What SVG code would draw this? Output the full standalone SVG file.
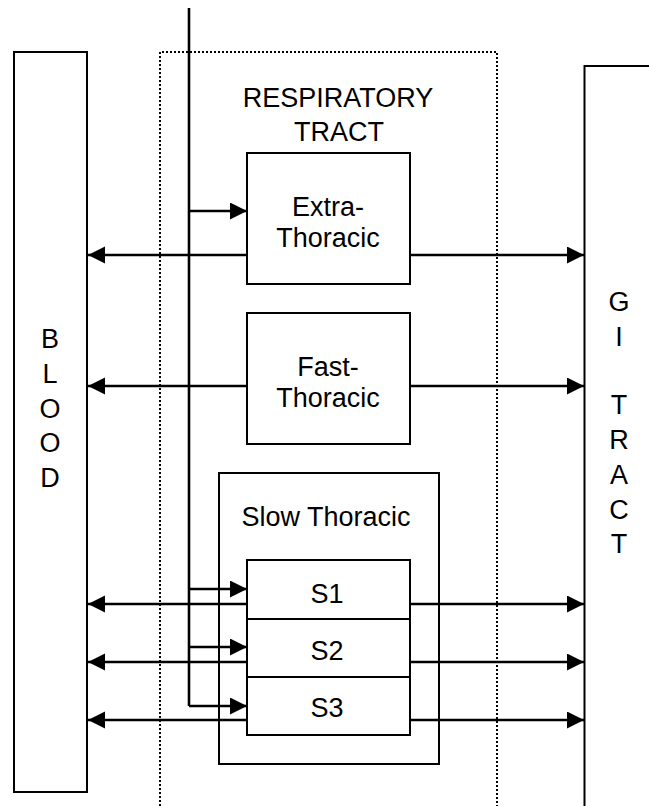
<svg xmlns="http://www.w3.org/2000/svg" width="649" height="806" viewBox="0 0 649 806">
<defs>
<style>
.box{fill:#fff;stroke:#000;stroke-width:2}
.dot{fill:none;stroke:#000;stroke-width:2;stroke-dasharray:2,2}
.ln{fill:none;stroke:#000;stroke-width:2.6}
.t{font-family:"Liberation Sans",Arial,sans-serif;font-size:27px;fill:#000;text-anchor:middle}
</style>
<marker id="ah" markerUnits="userSpaceOnUse" markerWidth="18" markerHeight="18" refX="17" refY="8.5" orient="auto">
<path d="M0,0 L17,8.5 L0,17 z" fill="#000"/>
</marker>
</defs>
<rect width="649" height="806" fill="#fff"/>
<g id="respiratory-tract">
<path class="dot" d="M160,806 V52 H497 V806"/>
<text class="t" x="338" y="107">RESPIRATORY</text>
<text class="t" x="339" y="141">TRACT</text>
</g>
<g id="blood">
<rect class="box" x="14" y="52" width="73" height="740"/>
<text class="t" x="50" y="348">B</text>
<text class="t" x="50" y="383">L</text>
<text class="t" x="50" y="418">O</text>
<text class="t" x="50" y="452">O</text>
<text class="t" x="50" y="487">D</text>
</g>
<g id="gi-tract">
<rect class="box" x="584.5" y="66" width="100" height="800" stroke-width="1.5"/>
<text class="t" x="619" y="311">G</text>
<text class="t" x="619" y="346">I</text>
<text class="t" x="619" y="414">T</text>
<text class="t" x="619" y="449">R</text>
<text class="t" x="619" y="484">A</text>
<text class="t" x="619" y="519">C</text>
<text class="t" x="619" y="553">T</text>
</g>
<g id="extra-thoracic">
<rect class="box" x="247" y="153" width="163" height="131"/>
<text class="t" x="328" y="216">Extra-</text>
<text class="t" x="328" y="247">Thoracic</text>
</g>
<g id="fast-thoracic">
<rect class="box" x="247" y="313" width="163" height="131"/>
<text class="t" x="328" y="376">Fast-</text>
<text class="t" x="328" y="407">Thoracic</text>
</g>
<g id="slow-thoracic">
<rect class="box" x="219" y="473" width="220" height="291"/>
<text class="t" x="326" y="526">Slow Thoracic</text>
</g>
<g id="s1">
<rect class="box" x="247" y="560" width="163" height="59"/>
<text class="t" x="327" y="603">S1</text>
</g>
<g id="s2">
<rect class="box" x="247" y="619" width="163" height="58"/>
<text class="t" x="327" y="660">S2</text>
</g>
<g id="s3">
<rect class="box" x="247" y="677" width="163" height="58"/>
<text class="t" x="327" y="717">S3</text>
</g>
<g id="connectors">
<path class="ln" d="M189,8 V706" stroke-width="3"/>
<path class="ln" d="M189,211 H247" marker-end="url(#ah)"/>
<path class="ln" d="M189,589 H247" marker-end="url(#ah)"/>
<path class="ln" d="M189,647 H247" marker-end="url(#ah)"/>
<path class="ln" d="M189,706 H247" marker-end="url(#ah)"/>
<path class="ln" d="M247,255 H88" marker-end="url(#ah)"/>
<path class="ln" d="M247,386 H88" marker-end="url(#ah)"/>
<path class="ln" d="M247,604 H88" marker-end="url(#ah)"/>
<path class="ln" d="M247,662 H88" marker-end="url(#ah)"/>
<path class="ln" d="M247,720 H88" marker-end="url(#ah)"/>
<path class="ln" d="M410,255 H584" marker-end="url(#ah)"/>
<path class="ln" d="M410,386 H584" marker-end="url(#ah)"/>
<path class="ln" d="M410,604 H584" marker-end="url(#ah)"/>
<path class="ln" d="M410,662 H584" marker-end="url(#ah)"/>
<path class="ln" d="M410,720 H584" marker-end="url(#ah)"/>
</g>
</svg>
